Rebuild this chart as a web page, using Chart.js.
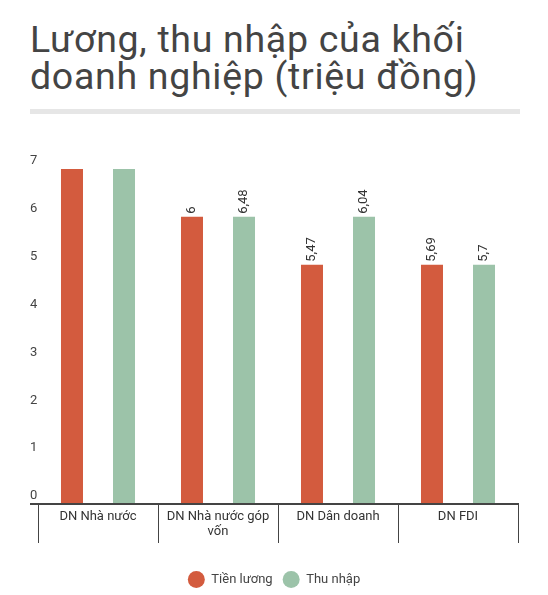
<!DOCTYPE html>
<html>
<head>
<meta charset="utf-8">
<script src="https://cdn.jsdelivr.net/npm/chart.js@4"></script>
<style>
  html, body { margin: 0; padding: 0; background: #fff; }
  body { width: 548px; height: 595px; position: relative; overflow: hidden; font-family: Roboto, sans-serif; }
  #title {
    position: absolute; left: 30px; top: 21px;
    font-size: 37.5px; line-height: 37px; color: #444; font-weight: 400;
    letter-spacing: 0.7px; white-space: nowrap;
  }
  #rule { position: absolute; left: 30px; top: 109px; width: 490px; height: 5px; background: #e6e6e6; }
  #wrap { position: absolute; left: 0; top: 120px; width: 548px; height: 478px; }
</style>
</head>
<body>
<div id="title">Lương, thu nhập của khối<br>doanh nghiệp (triệu đồng)</div>
<div id="rule"></div>
<div id="wrap"><canvas id="chart"></canvas></div>
<script>
// --- data (bar heights as drawn, value labels as printed) ---
const categories = ['DN Nhà nước', ['DN Nhà nước góp', 'vốn'], 'DN Dân doanh', 'DN FDI'];
const tienLuong = [7, 6, 5, 5];
const thuNhap = [7, 6, 6, 5];
const tienLuongLabels = [null, '6', '5,47', '5,69'];
const thuNhapLabels = [null, '6,48', '6,04', '5,7'];
const yTicks = [0, 1, 2, 3, 4, 5, 6, 7];

const RED = '#d35b3e';
const GREEN = '#9cc3a9';
const TEXT = '#444';

// rotated value labels above bars
const valueLabels = {
  id: 'valueLabels',
  afterDatasetsDraw(chart) {
    const { ctx } = chart;
    const sets = [tienLuongLabels, thuNhapLabels];
    ctx.save();
    ctx.font = '13px Roboto';
    ctx.fillStyle = '#333';
    ctx.textAlign = 'left';
    ctx.textBaseline = 'middle';
    chart.data.datasets.forEach((ds, i) => {
      chart.getDatasetMeta(i).data.forEach((bar, j) => {
        const txt = sets[i][j];
        if (!txt) return;
        ctx.save();
        ctx.translate(bar.x, bar.y - 3);
        ctx.rotate(-Math.PI / 2);
        ctx.fillText(txt, 0, 0);
        ctx.restore();
      });
    });
    ctx.restore();
  }
};

// baseline running under the y labels too
const baseline = {
  id: 'baseline',
  afterDraw(chart) {
    const { ctx, chartArea, scales } = chart;
    ctx.save();
    ctx.strokeStyle = TEXT;
    ctx.lineWidth = 2;
    ctx.beginPath();
    ctx.moveTo(scales.y.left, chartArea.bottom);
    ctx.lineTo(chartArea.right + 1, chartArea.bottom);
    ctx.stroke();
    ctx.restore();
  }
};

const data = {
  labels: categories,
  datasets: [
    {
      label: 'Tiền lương',
      data: tienLuong,
      backgroundColor: RED,
      barPercentage: 0.423,
      categoryPercentage: 0.867
    },
    {
      label: 'Thu nhập',
      data: thuNhap,
      backgroundColor: GREEN,
      barPercentage: 0.423,
      categoryPercentage: 0.867
    }
  ]
};

const options = {
  responsive: true,
  maintainAspectRatio: false,
  animation: false,
  layout: { padding: { left: 30, right: 30, top: 49, bottom: 0 } },
  plugins: {
    legend: {
      display: true,
      position: 'bottom',
      labels: {
        color: TEXT,
        font: { family: 'Roboto', size: 13 },
        boxWidth: 17,
        boxHeight: 17,
        useBorderRadius: true,
        borderRadius: 8.5,
        padding: 10
      }
    },
    tooltip: { enabled: false }
  },
  scales: {
    x: {
      grid: {
        offset: true,
        drawOnChartArea: false,
        drawTicks: true,
        tickLength: 39,
        color: TEXT
      },
      border: { display: false },
      ticks: {
        color: '#333',
        padding: -33,
        maxRotation: 0,
        autoSkip: false,
        font: { family: 'Roboto', size: 13, lineHeight: 1.1 }
      },
      afterFit(scale) { scale.height = 57; }
    },
    y: {
      min: 0,
      max: 7,
      afterBuildTicks(scale) { scale.ticks = yTicks.map(v => ({ value: v })); },
      grid: { display: false },
      border: { display: false },
      ticks: {
        color: TEXT,
        padding: 0,
        labelOffset: -8,
        crossAlign: 'far',
        font: { family: 'Roboto', size: 13 }
      },
      afterFit(scale) { scale.width = 8; }
    }
  }
};

new Chart(document.getElementById('chart').getContext('2d'), {
  type: 'bar',
  data,
  options,
  plugins: [valueLabels, baseline]
});
</script>
</body>
</html>
